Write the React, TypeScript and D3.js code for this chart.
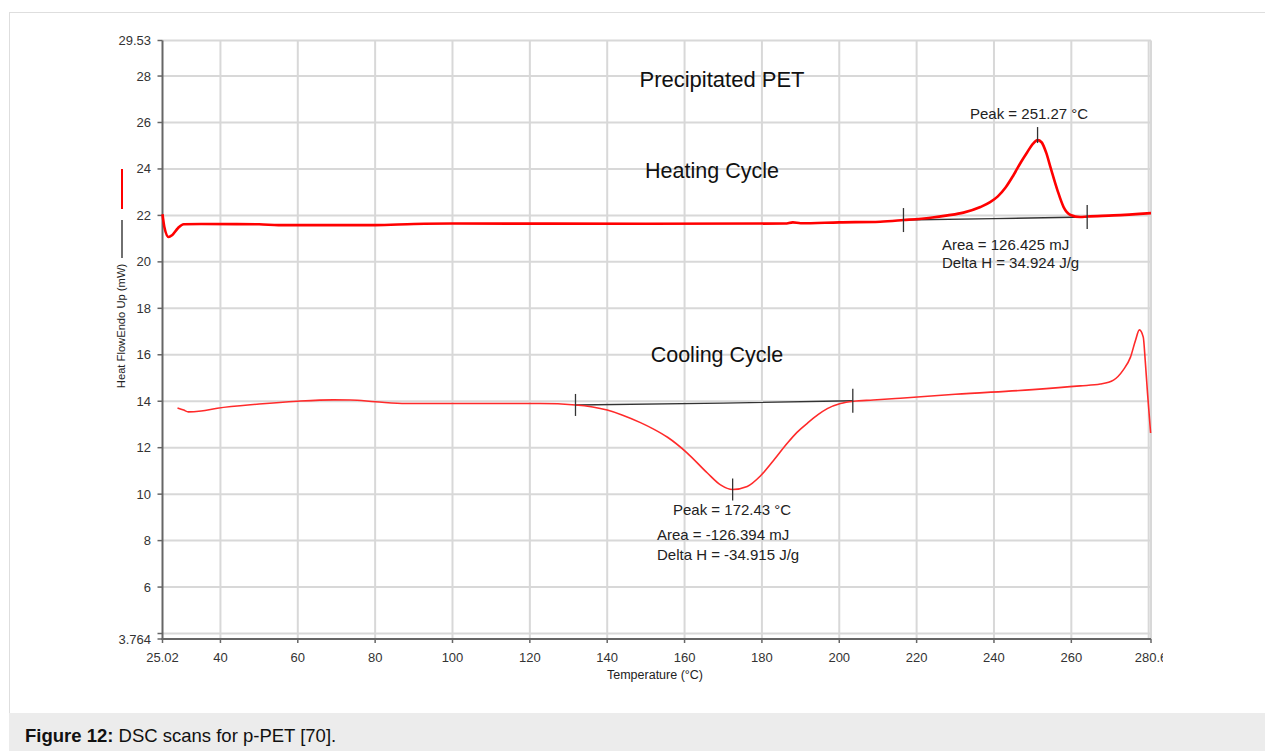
import { scaleLinear, line, curveMonotoneX, curveLinear } from 'd3';

// heating cycle trace (temperature °C, heat flow mW)
const heatingTemp = [
  25.02, 25.5, 26.6, 27.5, 29, 30.5, 35, 50, 55, 80, 90, 100, 150, 186, 188, 190, 200,
  210.6, 216.6, 223.6, 228, 232.1, 236.5, 239, 241, 243, 245, 247, 248.6, 250, 251.27,
  252.3, 253.5, 254.6, 256.4, 258.0, 259.8, 262.3, 264.1, 270.9, 280.6,
];
const heatingFlow = [
  22.05, 21.5, 21.07, 21.15, 21.45, 21.62, 21.63, 21.62, 21.58, 21.58, 21.63, 21.65, 21.64,
  21.65, 21.7, 21.66, 21.7, 21.73, 21.8, 21.9, 22.0, 22.12, 22.36, 22.57, 22.82, 23.2,
  23.72, 24.3, 24.72, 25.07, 25.24, 25.15, 24.7, 24.08, 23.09, 22.36, 22.02, 21.93, 21.95,
  22.0, 22.1,
];

// cooling cycle trace
const coolingTemp = [
  28.9, 30.5, 31.7, 35, 39.2, 50, 59.9, 69.2, 73.6, 80, 88, 100, 122.7, 131.8, 140.0, 144,
  148.6, 152, 155.6, 160.7, 165.9, 169.3, 172.43, 176.2, 179.6, 183.0, 186.6, 189, 191.8,
  194.5, 196.9, 200.3, 203.7, 208.8, 215.8, 230, 250, 262.3, 267.5, 270.9, 273.4, 275.3,
  276.6, 277.6, 278.6, 279.1, 279.7, 280.5,
];
const coolingFlow = [
  13.71, 13.62, 13.54, 13.58, 13.7, 13.88, 14.0, 14.06, 14.05, 13.98, 13.9, 13.9, 13.9, 13.84,
  13.62, 13.4, 13.08, 12.8, 12.45, 11.77, 10.91, 10.4, 10.2, 10.33, 10.78, 11.45, 12.2, 12.65,
  13.06, 13.42, 13.68, 13.9, 14.0, 14.05, 14.13, 14.3, 14.5, 14.66, 14.74, 14.91, 15.34, 15.9,
  16.63, 17.07, 16.76, 15.77, 14.35, 12.63,
];

// integration baselines and their limit markers
const heatingBaseTemp = [216.6, 240, 264.1];
const heatingBaseFlow = [21.8, 21.86, 21.93];
const coolingBaseTemp = [131.8, 170, 203.5];
const coolingBaseFlow = [13.84, 13.92, 14.02];
const heatingPeak = [251.27, 25.46];
const coolingPeak = [172.43, 10.2];

// axes
const xMin = 25.02;
const xMax = 280.6;
const yMin = 3.764;
const yMax = 29.53;
const xTickValues = [25.02, 40, 60, 80, 100, 120, 140, 160, 180, 200, 220, 240, 260, 280.6];
const xTickLabels = ['25.02', '40', '60', '80', '100', '120', '140', '160', '180', '200', '220', '240', '260', '280.6'];
const xGridValues = [40, 60, 80, 100, 120, 140, 160, 180, 200, 220, 240, 260, 280];
const yTickValues = [3.764, 6, 8, 10, 12, 14, 16, 18, 20, 22, 24, 26, 28, 29.53];
const yTickLabels = ['3.764', '6', '8', '10', '12', '14', '16', '18', '20', '22', '24', '26', '28', '29.53'];
const yGridValues = [4, 6, 8, 10, 12, 14, 16, 18, 20, 22, 24, 26, 28, 29.53];

const FONT = 'Arial, "Liberation Sans", sans-serif';

export default function App() {
  const width = 1265;
  const height = 751;
  const x = scaleLinear().domain([xMin, xMax]).range([162.5, 1151]);
  const y = scaleLinear().domain([yMin, yMax]).range([639, 40.5]);

  const path = (xs: number[], ys: number[], smooth = true) =>
    line<number>()
      .x((d) => x(d))
      .y((_, i) => y(ys[i]))
      .curve(smooth ? curveMonotoneX : curveLinear)(xs) || '';

  const marker = (t: number, v: number, half: number, key: string) => (
    <line key={key} x1={x(t)} x2={x(t)} y1={y(v) - half} y2={y(v) + half} stroke="#333" strokeWidth={1.3} />
  );

  return (
    <svg
      width={width}
      height={height}
      style={{ position: 'absolute', left: 0, top: 0, display: 'block', background: '#fff' }}
      fontFamily={FONT}
    >
      <defs>
        <clipPath id="frame">
          <rect x={0} y={0} width={1163} height={height} />
        </clipPath>
      </defs>
      {/* outer frame and caption bar */}
      <rect x={9.5} y={12.5} width={1270} height={720} fill="#fff" stroke="#dedede" />
      <rect x={9} y={713} width={1260} height={40} fill="#ececec" />
      <text x={25} y={742} fontSize={18.5} fill="#111">
        <tspan fontWeight="bold">Figure 12:</tspan> DSC scans for p-PET [70].
      </text>

      {/* grid */}
      {xGridValues.map((v) => (
        <line key={'gx' + v} x1={x(v)} x2={x(v)} y1={y(yMax)} y2={y(yMin)} stroke="#d8d8d8" strokeWidth={2} />
      ))}
      {yGridValues.map((v) => (
        <line key={'gy' + v} x1={x(xMin)} x2={x(xMax)} y1={y(v)} y2={y(v)} stroke="#d8d8d8" strokeWidth={2} />
      ))}
      <line x1={x(xMax)} x2={x(xMax)} y1={y(yMax)} y2={y(yMin)} stroke="#d8d8d8" strokeWidth={2} />

      {/* axes */}
      <line x1={x(xMin)} x2={x(xMin)} y1={y(yMax)} y2={y(yMin) + 1} stroke="#666" strokeWidth={2} />
      <line x1={x(xMin) - 1} x2={x(xMax)} y1={y(yMin)} y2={y(yMin)} stroke="#666" strokeWidth={2} />
      {[4, ...yTickValues].map((v) => (
        <line key={'ty' + v} x1={x(xMin) - 5} x2={x(xMin)} y1={y(v)} y2={y(v)} stroke="#666" strokeWidth={1.5} />
      ))}
      {xTickValues.map((v) => (
        <line key={'tx' + v} x1={x(v)} x2={x(v)} y1={y(yMin)} y2={y(yMin) + 4} stroke="#666" strokeWidth={1.5} />
      ))}
      {yTickValues.map((v, i) => (
        <text key={'ly' + v} x={151} y={y(v) + 4.5} fontSize={13} textAnchor="end" fill="#333">
          {yTickLabels[i]}
        </text>
      ))}
      <g clipPath="url(#frame)">
        {xTickValues.map((v, i) => (
          <text key={'lx' + v} x={x(v)} y={662} fontSize={13} textAnchor="middle" fill="#333">
            {xTickLabels[i]}
          </text>
        ))}
      </g>
      <text x={655} y={679} fontSize={12.5} textAnchor="middle" fill="#222">
        Temperature (°C)
      </text>
      <text transform="translate(125,326) rotate(-90)" fontSize={11.2} textAnchor="middle" fill="#222">
        Heat FlowEndo Up (mW)
      </text>
      <line x1={122} x2={122} y1={169} y2={209} stroke="#ff0000" strokeWidth={2} />
      <line x1={122} x2={122} y1={220} y2={258} stroke="#222" strokeWidth={1.3} />

      {/* baselines */}
      <path d={path(heatingBaseTemp, heatingBaseFlow, false)} fill="none" stroke="#333" strokeWidth={1.4} />
      <path d={path(coolingBaseTemp, coolingBaseFlow, false)} fill="none" stroke="#333" strokeWidth={1.4} />

      {/* traces */}
      <path d={path(coolingTemp, coolingFlow)} fill="none" stroke="#ff2a2a" strokeWidth={1.6} strokeLinejoin="round" />
      <path d={path(heatingTemp, heatingFlow)} fill="none" stroke="#ff0000" strokeWidth={2.6} strokeLinejoin="round" />

      {/* limit / peak markers */}
      {marker(heatingBaseTemp[0], heatingBaseFlow[0], 12, 'h0')}
      {marker(heatingBaseTemp[2], heatingBaseFlow[2], 12, 'h1')}
      {marker(heatingPeak[0], heatingPeak[1], 8, 'hp')}
      {marker(coolingBaseTemp[0], coolingBaseFlow[0], 11, 'c0')}
      {marker(coolingBaseTemp[2], coolingBaseFlow[2], 12, 'c1')}
      {marker(coolingPeak[0], coolingPeak[1], 11, 'cp')}

      {/* titles and annotations */}
      <text x={722} y={87} fontSize={22} textAnchor="middle" fill="#111">Precipitated PET</text>
      <text x={712} y={178} fontSize={21.5} textAnchor="middle" fill="#111">Heating Cycle</text>
      <text x={717} y={362} fontSize={21.5} textAnchor="middle" fill="#111">Cooling Cycle</text>

      <g fontSize={15} fill="#222">
        <text x={970} y={119}>Peak = 251.27 °C</text>
        <text x={942} y={250}>Area = 126.425 mJ</text>
        <text x={942} y={268}>Delta H = 34.924 J/g</text>
        <text x={673} y={515}>Peak = 172.43 °C</text>
        <text x={657} y={540}>Area = -126.394 mJ</text>
        <text x={657} y={560}>Delta H = -34.915 J/g</text>
      </g>
    </svg>
  );
}
